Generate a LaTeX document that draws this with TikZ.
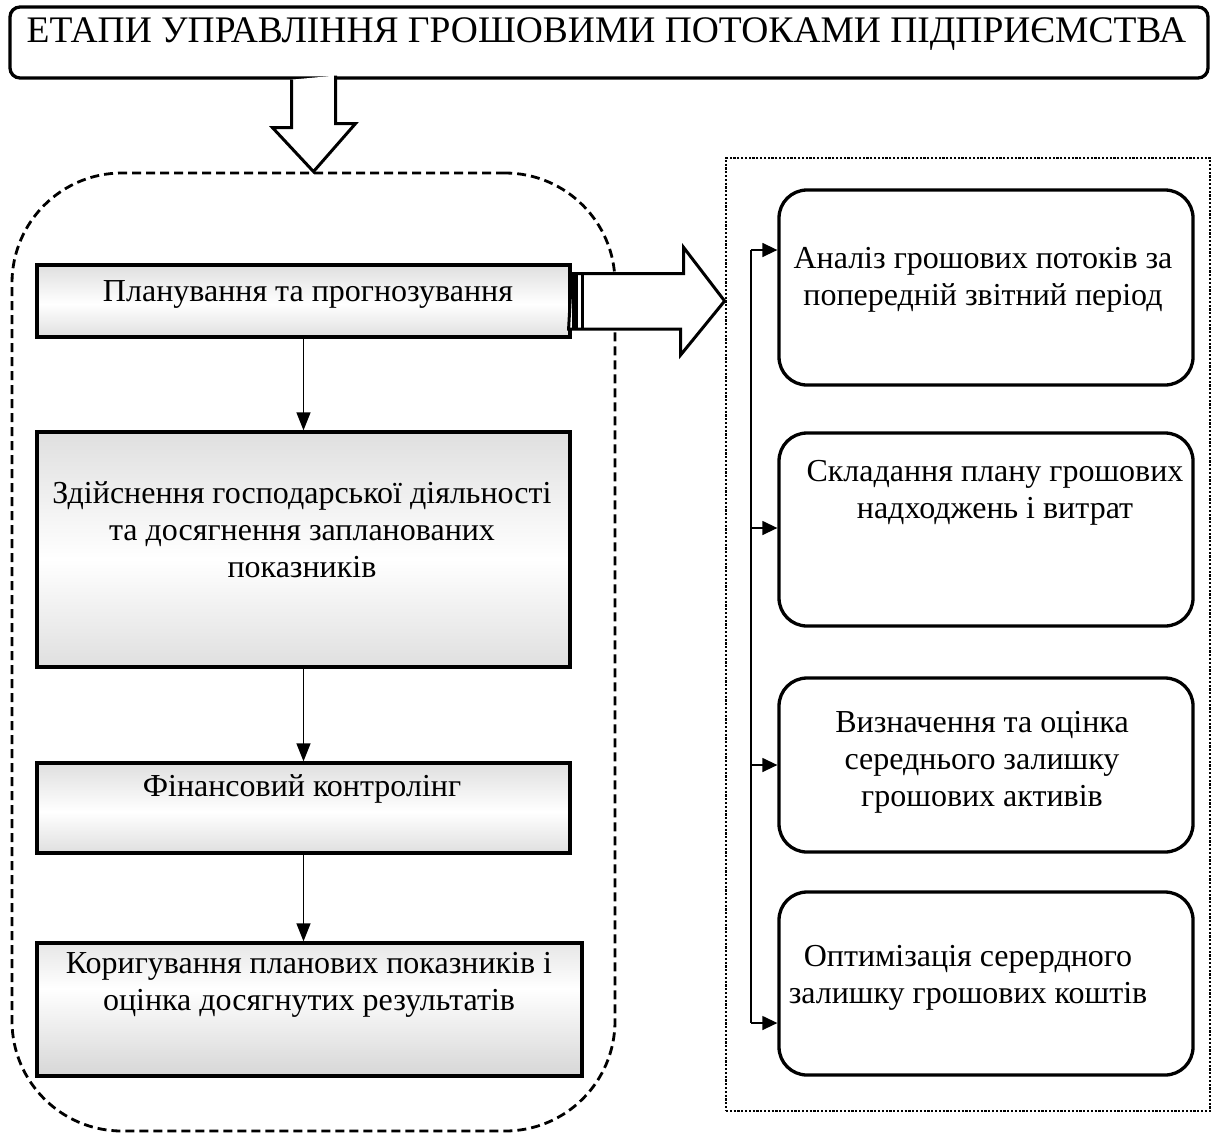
\documentclass[tikz,border=0pt]{standalone}
\usepackage{fontspec}
\setmainfont{Liberation Serif}
\usetikzlibrary{arrows.meta,calc}
\pgfdeclareverticalshading{shadeMid}{100bp}{color(0bp)=(black!26); color(48bp)=(white); color(100bp)=(black!24)}
\pgfdeclareverticalshading{shadeHigh}{100bp}{color(0bp)=(black!28); color(58bp)=(white); color(100bp)=(black!24)}
\begin{document}
\begin{tikzpicture}[x=1pt,y=-1pt,
  txt/.style={font=\fontsize{32}{37}\selectfont, align=center, inner sep=0pt},
  graybox/.style={draw, line width=3.3pt, minimum width=533pt, inner sep=0pt},
  roundbox/.style={draw, line width=3.3pt, rounded corners=28pt, minimum width=414pt, inner sep=0pt},
  conn/.style={line width=1.4pt, -{Triangle[length=18pt,width=14pt]}},
  sideconn/.style={line width=1.4pt, -{Triangle[length=15pt,width=14pt]}},
  blockarrow/.style={draw, fill=white, line width=3pt, line join=miter}]
\useasboundingbox (0,0) rectangle (1214,1133);

% title
\node[draw, line width=3.3pt, rounded corners=10pt, minimum width=1198pt, minimum height=71pt, inner sep=0pt] (title) at (609,42.5) {};
\node[anchor=base, inner sep=0pt, font=\fontsize{37.5}{42}\selectfont] (titletext) at (606.5,42) {ЕТАПИ УПРАВЛІННЯ ГРОШОВИМИ ПОТОКАМИ ПІДПРИЄМСТВА};

% dashed group
\node[draw, line width=2.8pt, dash pattern=on 9pt off 5pt, rounded corners=110pt, minimum width=603pt, minimum height=958pt, inner sep=0pt] (grp) at (313.5,652) {};

% dotted group
\node[draw, line width=2.8pt, dash pattern=on 2.2pt off 1.6pt, minimum width=484pt, minimum height=953pt, inner sep=0pt] (dots) at (968,634.5) {};

% down hollow arrow
\coordinate (dA) at (title.south -| grp.north);
\draw[blockarrow] (dA) ++(-22,0) -- ++(0,48) -- ++(-19,0) -- (grp.north) -- ++(42,-48) -- ++(-20,0) -- ++(0,-48);

% left boxes
\node[graybox, shading=shadeMid, minimum height=72pt] (b1) at (303.5,301) {};
\node[graybox, shading=shadeMid, minimum height=235pt] (b2) at (303.5,549.5) {};
\node[graybox, shading=shadeMid, minimum height=90pt] (b3) at (303.5,808) {};
\node[graybox, shading=shadeHigh, minimum width=545pt, minimum height=133pt] (b4) at (309.5,1009.5) {};

\node[txt, anchor=base] (t1) at (308,301) {Планування та прогнозування};
\node[txt] (t2) at (302,530) {Здійснення господарської діяльності\\та досягнення запланованих\\показників};
\node[txt, anchor=base] (t3) at (302,796) {Фінансовий контролінг};
\node[txt] (t4) at (309,985) {Коригування планових показників і\\оцінка досягнутих результатів};

\draw[conn] (b1.south) -- (b2.north);
\draw[conn] (b2.south) -- (b3.north);
\draw[conn] (b3.south) -- (b3.south |- b4.north);

% right block arrow
\draw[blockarrow] (b1.east) ++(0,-27.5) -- ++(112,0) -- ++(0,-26) -- (b1.east -| dots.west) -- ++(-44,54) -- ++(0,-26) -- ++(-112,0) -- cycle;
\fill (b1.east) ++(0,-27.5) rectangle ++(6,55);
\draw[line width=3pt] (b1.east) ++(11,-27.5) -- ++(0,55);

% right boxes
\node[roundbox, minimum height=195pt] (r1) at (986,287.5) {};
\node[roundbox, minimum height=193pt] (r2) at (986,529.5) {};
\node[roundbox, minimum height=174pt] (r3) at (986,765) {};
\node[roundbox, minimum height=183pt] (r4) at (986,983.5) {};

\node[txt] (s1) at (983,280) {Аналіз грошових потоків за\\попередній звітний період};
\node[txt] (s2) at (995,493) {Складання плану грошових\\надходжень і витрат};
\node[txt] (s3) at (982,762) {Визначення та оцінка\\середнього залишку\\грошових активів};
\node[txt] (s4) at (968,978) {Оптимізація серердного\\залишку грошових коштів};

% trunk
\coordinate (k1) at (751,250);
\coordinate (k2) at (751,528);
\coordinate (k3) at (751,765);
\coordinate (k4) at (751,1023);
\draw[line width=1.4pt] (k1) -- (k4);
\draw[sideconn] (k1) -- (k1 -| r1.west);
\draw[sideconn] (k2) -- (k2 -| r2.west);
\draw[sideconn] (k3) -- (k3 -| r3.west);
\draw[sideconn] (k4) -- (k4 -| r4.west);
\end{tikzpicture}
\end{document}
